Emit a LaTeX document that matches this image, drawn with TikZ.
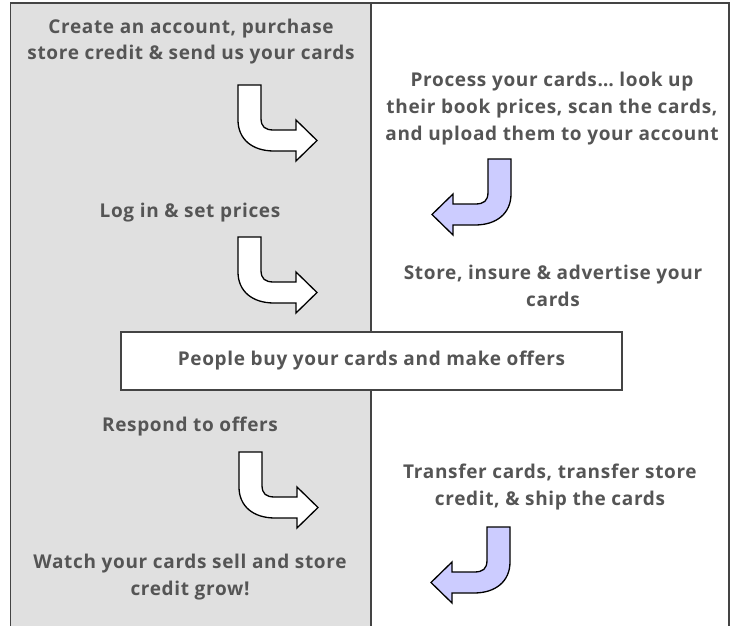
\documentclass[tikz,border=0pt]{standalone}
\usepackage{fontspec}
\setmainfont[LetterSpace=3.5]{Open Sans}
\usetikzlibrary{positioning}
\definecolor{panelgray}{HTML}{E0E0E0}
\definecolor{textgray}{HTML}{555555}
\definecolor{linegray}{HTML}{444444}
\definecolor{arrowblue}{HTML}{CCCCFF}

\begin{document}
\begin{tikzpicture}[x=1pt,y=-1pt,
		task/.style={align=center,anchor=base,text=textgray,font=\bfseries\fontsize{19}{27}\selectfont},
		frame/.style={draw=linegray,line width=1.5pt},
		pics/bentarrow/.style={code={
			\draw[line width=1.3pt,fill=#1] (0,0) -- (23,0) -- (23,33)
				.. controls (23,42) and (27,45) .. (36,45) -- (58,45) -- (58,35)
				-- (79,55.5) -- (58,76) -- (58,66) -- (36,66)
				.. controls (14,66) and (0,54) .. (0,35) -- cycle;}}]
		\useasboundingbox (0,0) rectangle (732,626);
		% the two columns
		\fill[panelgray] (10.5,3) rectangle (371,626);
		\draw[frame] (10.5,626) -- (10.5,3) -- (729,3) -- (729,626);
		\draw[frame] (371,3) -- (371,626);
		% your side
		\node[task] (create) at (191,60) {Create an account, purchase\\store credit \& send us your cards};
		\node[task] (login) at (190,217) {Log in \& set prices};
		\node[task] (respond) at (190,431) {Respond to offers};
		\node[task] (watch) at (190,595) {Watch your cards sell and store\\credit grow!};
		% our side
		\node[task] (process) at (552,140) {Process your cards\dots\ look up\\their book prices, scan the cards,\\and upload them to your account};
		\node[task] (store) at (553,306) {Store, insure \& advertise your\\cards};
		\node[task] (transfer) at (550,505) {Transfer cards, transfer store\\credit, \& ship the cards};
		% buyers
		\node[task,anchor=center,draw=linegray,line width=2pt,fill=white,
			minimum width=501pt,minimum height=58pt] (buy) at (371.5,361) {People buy your cards and make offers};
		% bent arrows
		\pic at (238,85) {bentarrow=white};
		\pic at (238,237) {bentarrow=white};
		\pic at (239,452) {bentarrow=white};
		\pic[xscale=-1] at (511,159) {bentarrow=arrowblue};
		\pic[xscale=-1] at (510,527) {bentarrow=arrowblue};
	\end{tikzpicture}
\end{document}
